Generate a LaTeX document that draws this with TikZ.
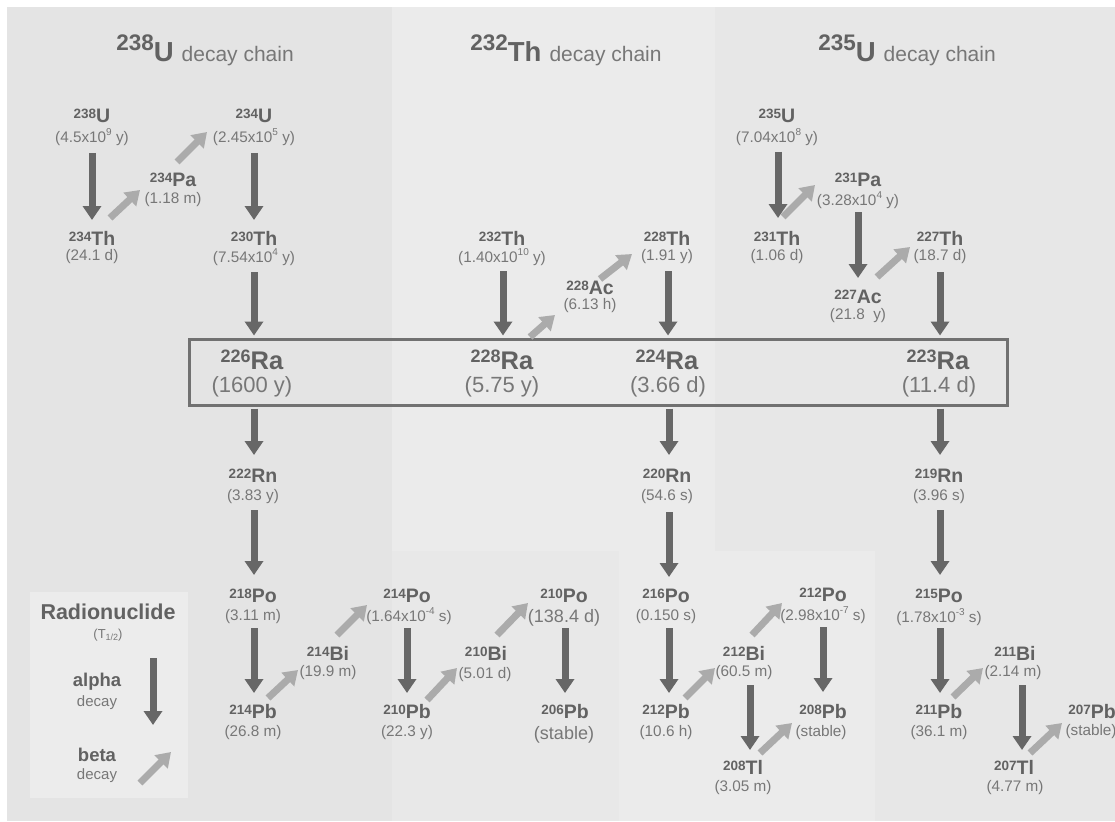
\documentclass[tikz,border=0pt]{standalone}
\usepackage{fontspec}
\setmainfont{Liberation Sans}
\usetikzlibrary{arrows.meta,calc}
\definecolor{bgbase}{HTML}{E4E4E4}
\definecolor{bgright}{HTML}{E7E7E7}
\definecolor{bglight}{HTML}{EBEBEB}
\definecolor{bglow}{HTML}{E8E8E8}
\definecolor{legc}{HTML}{ECECEC}
\definecolor{namec}{HTML}{626262}
\definecolor{hlc}{HTML}{777777}
\definecolor{alphac}{HTML}{676767}
\definecolor{betac}{HTML}{ABABAB}
\definecolor{boxc}{HTML}{717171}
\newcommand\nuc[2]{\raisebox{4pt}{\fontsize{13.5}{14}\selectfont #1}\fontsize{19.5}{20}\selectfont #2}
\newcommand\bignuc[2]{\raisebox{7.5pt}{\fontsize{18}{19}\selectfont #1}\fontsize{25.5}{26}\selectfont #2}
\newcommand\ex[1]{\raisebox{0.42em}{\fontsize{10}{10}\selectfont #1}}
\newcommand\ttlx[2]{{\color{namec}\bfseries\raisebox{11pt}{\fontsize{22.5}{22}\selectfont #1}\fontsize{27.5}{28}\selectfont #2}\hspace{8pt}{\color{hlc}\fontsize{21}{22}\selectfont decay chain}}
\tikzset{
  nm/.style={inner sep=0pt, text=namec, font=\bfseries},
  hl/.style={inner sep=0pt, text=hlc, font=\fontsize{15.3}{16}\selectfont},
  midhl/.style={inner sep=0pt, text=hlc, font=\fontsize{18}{19}\selectfont},
  bighl/.style={inner sep=0pt, text=hlc, font=\fontsize{22}{24}\selectfont},
  ttl/.style={inner sep=0pt, anchor=base},
  alphaarr/.style={draw=alphac, line width=7pt, -{Triangle[length=14pt,width=18pt]}},
  betaarr/.style={draw=betac, line width=7pt, -{Triangle[length=14pt,width=18pt]}},
}
\begin{document}
\begin{tikzpicture}[x=1pt,y=-1pt]
\useasboundingbox (0,0) rectangle (1115,821);
% background panels
\fill[white] (0,0) rectangle (1115,821);
\fill[bgbase] (7,7) rectangle (1115,821);
\fill[bgright] (715,7) rectangle (1115,821);
\fill[bglight] (392,7) rectangle (715,551);
\fill[bglow] (392,551) rectangle (619,821);
\fill[bglight] (619,551) rectangle (875,821);
\node[fill=legc, minimum width=158pt, minimum height=206pt, inner sep=0pt] (legend) at (109,695) {};

% titles
\node[ttl] (t238) at (205,62) {\ttlx{238}{U}};
\node[ttl] (t232) at (566,62) {\ttlx{232}{Th}};
\node[ttl] (t235) at (907,62) {\ttlx{235}{U}};

% radium box
\node[draw=boxc, line width=3pt, minimum width=818pt, minimum height=66pt, inner sep=0pt] (rabox) at (598,372) {};

% 238U chain
\node[nm] (u238) at (92,116) {\nuc{238}{U}};
\node[hl] (u238h) at (92,137) {(4.5x10\ex{9} y)};
\node[nm] (th234) at (92,238) {\nuc{234}{Th}};
\node[hl] (th234h) at (92,257) {(24.1 d)};
\node[nm] (pa234) at (173,180) {\nuc{234}{Pa}};
\node[hl] (pa234h) at (173,200) {(1.18 m)};
\node[nm] (u234) at (254,116) {\nuc{234}{U}};
\node[hl] (u234h) at (254,137) {(2.45x10\ex{5} y)};
\node[nm] (th230) at (254,238) {\nuc{230}{Th}};
\node[hl] (th230h) at (254,257) {(7.54x10\ex{4} y)};
\node[nm] (ra226) at (252,360) {\bignuc{226}{Ra}};
\node[bighl] (ra226h) at (252,387) {(1600 y)};
\node[nm] (rn222) at (253,476) {\nuc{222}{Rn}};
\node[hl] (rn222h) at (253,497) {(3.83 y)};
\node[nm] (po218) at (253,596) {\nuc{218}{Po}};
\node[hl] (po218h) at (253,617) {(3.11 m)};
\node[nm] (pb214) at (253,712) {\nuc{214}{Pb}};
\node[hl] (pb214h) at (253,733) {(26.8 m)};
\node[nm] (bi214) at (328,653) {\nuc{214}{Bi}};
\node[hl] (bi214h) at (328,673) {(19.9 m)};
\node[nm] (po214) at (407,596) {\nuc{214}{Po}};
\node[hl] (po214h) at (409,616) {(1.64x10\ex{-4} s)};
\node[nm] (pb210) at (407,712) {\nuc{210}{Pb}};
\node[hl] (pb210h) at (407,733) {(22.3 y)};
\node[nm] (bi210) at (486,653) {\nuc{210}{Bi}};
\node[hl] (bi210h) at (485,675) {(5.01 d)};
\node[nm] (po210) at (564,596) {\nuc{210}{Po}};
\node[midhl] (po210h) at (564,618) {(138.4 d)};
\node[nm] (pb206) at (565,712) {\nuc{206}{Pb}};
\node[midhl] (pb206h) at (564,735) {(stable)};

% 232Th chain
\node[nm] (th232) at (502,238) {\nuc{232}{Th}};
\node[hl] (th232h) at (502,257) {(1.40x10\ex{10} y)};
\node[nm] (ra228) at (502,360) {\bignuc{228}{Ra}};
\node[bighl] (ra228h) at (502,387) {(5.75 y)};
\node[nm] (ac228) at (590,288) {\nuc{228}{Ac}};
\node[hl] (ac228h) at (590,306) {(6.13 h)};
\node[nm] (th228) at (667,238) {\nuc{228}{Th}};
\node[hl] (th228h) at (667,257) {(1.91 y)};
\node[nm] (ra224) at (667,360) {\bignuc{224}{Ra}};
\node[bighl] (ra224h) at (668,387) {(3.66 d)};
\node[nm] (rn220) at (667,476) {\nuc{220}{Rn}};
\node[hl] (rn220h) at (667,497) {(54.6 s)};
\node[nm] (po216) at (666,596) {\nuc{216}{Po}};
\node[hl] (po216h) at (666,617) {(0.150 s)};
\node[nm] (pb212) at (666,712) {\nuc{212}{Pb}};
\node[hl] (pb212h) at (666,733) {(10.6 h)};
\node[nm] (bi212) at (744,653) {\nuc{212}{Bi}};
\node[hl] (bi212h) at (744,673) {(60.5 m)};
\node[nm] (po212) at (823,595) {\nuc{212}{Po}};
\node[hl] (po212h) at (823,615) {(2.98x10\ex{-7} s)};
\node[nm] (pb208) at (823,712) {\nuc{208}{Pb}};
\node[hl] (pb208h) at (821,733) {(stable)};
\node[nm] (tl208) at (743,767) {\nuc{208}{Tl}};
\node[hl] (tl208h) at (743,788) {(3.05 m)};

% 235U chain
\node[nm] (u235) at (777,116) {\nuc{235}{U}};
\node[hl] (u235h) at (777,137) {(7.04x10\ex{8} y)};
\node[nm] (th231) at (777,238) {\nuc{231}{Th}};
\node[hl] (th231h) at (777,257) {(1.06 d)};
\node[nm] (pa231) at (858,180) {\nuc{231}{Pa}};
\node[hl] (pa231h) at (858,200) {(3.28x10\ex{4} y)};
\node[nm] (ac227) at (858,297) {\nuc{227}{Ac}};
\node[hl] (ac227h) at (858,316) {(21.8\ \ y)};
\node[nm] (th227) at (940,238) {\nuc{227}{Th}};
\node[hl] (th227h) at (940,257) {(18.7 d)};
\node[nm] (ra223) at (938,360) {\bignuc{223}{Ra}};
\node[bighl] (ra223h) at (939,387) {(11.4 d)};
\node[nm] (rn219) at (939,476) {\nuc{219}{Rn}};
\node[hl] (rn219h) at (939,497) {(3.96 s)};
\node[nm] (po215) at (939,596) {\nuc{215}{Po}};
\node[hl] (po215h) at (939,617) {(1.78x10\ex{-3} s)};
\node[nm] (pb211) at (939,712) {\nuc{211}{Pb}};
\node[hl] (pb211h) at (939,733) {(36.1 m)};
\node[nm] (bi211) at (1015,653) {\nuc{211}{Bi}};
\node[hl] (bi211h) at (1013,673) {(2.14 m)};
\node[nm] (tl207) at (1014,767) {\nuc{207}{Tl}};
\node[hl] (tl207h) at (1015,788) {(4.77 m)};
\node[nm] (pb207) at (1092,712) {\nuc{207}{Pb}};
\node[hl] (pb207h) at (1091,732) {(stable)};

% alpha decays
\draw[alphaarr] ($(u238h)+(0,16)$) -- ($(th234)+(0,-18)$);
\draw[alphaarr] ($(u234h)+(0,16)$) -- ($(th230)+(0,-18)$);
\draw[alphaarr] ($(th230h)+(0,15)$) -- ($(th230h |- rabox.north)+(0,-2)$);
\draw[alphaarr] ($(th232h)+(1,14)$) -- ($(th232h |- rabox.north)+(1,-2)$);
\draw[alphaarr] ($(th228h)+(1,14)$) -- ($(th228h |- rabox.north)+(1,-2)$);
\draw[alphaarr] ($(u235h)+(1,15)$) -- ($(th231)+(1,-20)$);
\draw[alphaarr] ($(pa231h)+(0,12)$) -- ($(ac227)+(0,-19)$);
\draw[alphaarr] ($(th227h)+(0,15)$) -- ($(th227h |- rabox.north)+(0,-2)$);
\draw[alphaarr] ($(rn222 |- rabox.south)+(1,2)$) -- ($(rn222)+(1,-21)$);
\draw[alphaarr] ($(rn220 |- rabox.south)+(2,2)$) -- ($(rn220)+(2,-21)$);
\draw[alphaarr] ($(rn219 |- rabox.south)+(1,2)$) -- ($(rn219)+(1,-21)$);
\draw[alphaarr] ($(rn222h)+(1,13)$) -- ($(po218)+(1,-21)$);
\draw[alphaarr] ($(rn220h)+(2,15)$) -- ($(po216)+(3,-19)$);
\draw[alphaarr] ($(rn219h)+(1,13)$) -- ($(po215)+(1,-21)$);
\draw[alphaarr] ($(po218h)+(1,11)$) -- ($(pb214)+(1,-19)$);
\draw[alphaarr] ($(po214h)+(-2,12)$) -- ($(pb210)+(0,-19)$);
\draw[alphaarr] ($(po210h)+(1,10)$) -- ($(pb206)+(0,-19)$);
\draw[alphaarr] ($(po216h)+(3,11)$) -- ($(pb212)+(3,-19)$);
\draw[alphaarr] ($(po212h)+(0,12)$) -- ($(pb208)+(0,-20)$);
\draw[alphaarr] ($(po215h)+(1,11)$) -- ($(pb211)+(1,-19)$);
\draw[alphaarr] ($(bi212h)+(6,12)$) -- ($(tl208)+(7,-17)$);
\draw[alphaarr] ($(bi211h)+(9,12)$) -- ($(tl207)+(8,-17)$);

% beta decays
\draw[betaarr] ($(th234)+(18,-20)$) -- ($(pa234)+(-33,10)$);
\draw[betaarr] ($(pa234)+(4,-18)$) -- ($(u234)+(-47,16)$);
\draw[betaarr] ($(ra228)+(28,-23)$) -- ($(ac228)+(-35,27)$);
\draw[betaarr] ($(ac228)+(10,-9)$) -- ($(th228)+(-35,16)$);
\draw[betaarr] ($(th231)+(6,-21)$) -- ($(pa231)+(-43,5)$);
\draw[betaarr] ($(ac227)+(19,-20)$) -- ($(th227)+(-30,9)$);
\draw[betaarr] ($(pb214)+(15,-14)$) -- ($(bi214)+(-30,17)$);
\draw[betaarr] ($(bi214)+(9,-18)$) -- ($(po214)+(-40,9)$);
\draw[betaarr] ($(pb210)+(20,-12)$) -- ($(bi210)+(-29,15)$);
\draw[betaarr] ($(bi210)+(11,-18)$) -- ($(po210)+(-36,7)$);
\draw[betaarr] ($(pb212)+(19,-14)$) -- ($(bi212)+(-29,15)$);
\draw[betaarr] ($(bi212)+(8,-18)$) -- ($(po212)+(-41,8)$);
\draw[betaarr] ($(tl208)+(17,-14)$) -- ($(pb208)+(-31,11)$);
\draw[betaarr] ($(pb211)+(14,-15)$) -- ($(bi211)+(-32,15)$);
\draw[betaarr] ($(tl207)+(16,-14)$) -- ($(pb207)+(-30,11)$);

% legend
\node[inner sep=0pt, text=namec, font=\bfseries\fontsize{21.5}{22}\selectfont] (lgrad) at (108,612) {Radionuclide};
\node[inner sep=0pt, text=hlc, font=\fontsize{13}{14}\selectfont] (lgt) at (108,635) {(T\raisebox{-2.5pt}{\fontsize{9}{9}\selectfont 1/2})};
\node[inner sep=0pt, text=namec, font=\bfseries\fontsize{18.5}{19}\selectfont] (lga) at (97,682) {alpha};
\node[inner sep=0pt, text=hlc, font=\fontsize{15}{16}\selectfont] (lgad) at (97,703) {decay};
\node[inner sep=0pt, text=namec, font=\bfseries\fontsize{18.5}{19}\selectfont] (lgb) at (97,755) {beta};
\node[inner sep=0pt, text=hlc, font=\fontsize{15}{16}\selectfont] (lgbd) at (97,776) {decay};
\coordinate (la1) at (153,658);
\coordinate (la2) at (153,725);
\coordinate (lb1) at (140,783);
\coordinate (lb2) at (171,752);
\draw[alphaarr] (la1) -- (la2);
\draw[betaarr] (lb1) -- (lb2);
\end{tikzpicture}
\end{document}
